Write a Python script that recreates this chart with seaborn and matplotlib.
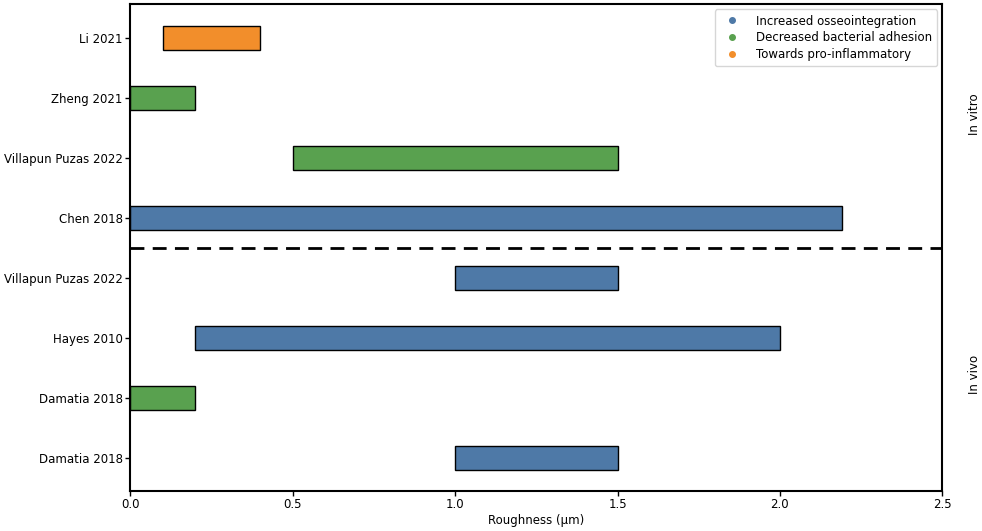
import matplotlib
matplotlib.use("Agg")
import matplotlib.pyplot as plt
from matplotlib.lines import Line2D
import seaborn as sns

# Data
studies = ["Li 2021", "Zheng 2021", "Villapun Puzas 2022", "Chen 2018",
           "Villapun Puzas 2022", "Hayes 2010", "Damatia 2018", "Damatia 2018"]
starts = [0.1, 0.0, 0.5, 0.0, 1.0, 0.2, 0.0, 1.0]
ends = [0.4, 0.2, 1.5, 2.19, 1.5, 2.0, 0.2, 1.5]
effects = ["Towards pro-inflammatory", "Decreased bacterial adhesion",
           "Decreased bacterial adhesion", "Increased osseointegration",
           "Increased osseointegration", "Increased osseointegration",
           "Decreased bacterial adhesion", "Increased osseointegration"]
legend_order = ["Increased osseointegration", "Decreased bacterial adhesion",
                "Towards pro-inflammatory"]
palette = {"Increased osseointegration": "#4E79A7",
           "Decreased bacterial adhesion": "#59A14F",
           "Towards pro-inflammatory": "#F28E2B"}

sns.set_style("ticks")
plt.rcParams['font.family'] = ['DejaVu Sans']
plt.rcParams['font.size'] = 8.5
plt.rcParams['text.color'] = 'black'
plt.rcParams['axes.labelcolor'] = 'black'

fig = plt.figure(figsize=(9.82, 5.31), dpi=100)
ax = fig.add_axes([0.1327, 0.0759, 0.8269, 0.9166])

pos = list(range(len(studies)))
widths = [e - s for s, e in zip(starts, ends)]
colors = [palette[k] for k in effects]
ax.barh(pos, widths, left=starts, height=0.4, color=colors,
        edgecolor="black", linewidth=1)

ax.set_yticks(pos)
ax.set_yticklabels(studies)
ax.set_ylim(7.54, -0.57)
ax.set_xlim(0, 2.5)
ax.set_xticks([0.0, 0.5, 1.0, 1.5, 2.0, 2.5])
ax.set_xlabel("Roughness (µm)", fontsize=8.5, labelpad=2)
ax.tick_params(axis="both", labelsize=8.5, colors="black", length=3.5,
               width=1, pad=2)
for sp in ax.spines.values():
    sp.set_linewidth(1.5)
    sp.set_color("black")

# divider between in vitro and in vivo
ax.axhline(3.5, color="black", linestyle="--", linewidth=2, dashes=(5, 3))

ax.text(2.6, 1.27, "In vitro", rotation=90, ha="center", va="center",
        fontsize=8.5)
ax.text(2.6, 5.6, "In vivo", rotation=90, ha="center", va="center",
        fontsize=8.5)

handles = [Line2D([0], [0], marker="o", linestyle="", markersize=4,
                  color=palette[k], label=k) for k in legend_order]
ax.legend(handles=handles, loc="upper right", fontsize=8.5, frameon=True,
          borderpad=0.45, labelspacing=0.3, handletextpad=1.0,
          borderaxespad=0.45)

plt.savefig("out.png", dpi=100)
